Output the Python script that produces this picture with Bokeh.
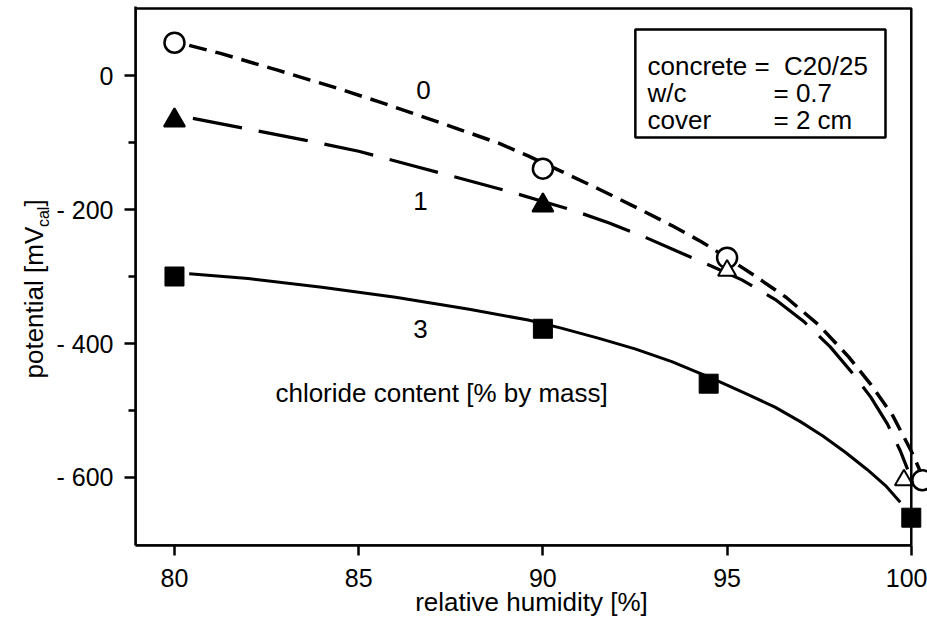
from bokeh.plotting import figure
from bokeh.models import FixedTicker, Label, BoxAnnotation, Range1d, ColumnDataSource, LinearAxis
from bokeh.core.properties import value
from bokeh.embed import file_html
from bokeh.resources import INLINE

# ---------------- data ----------------
# measured points, chloride content 0 / 1 / 3 % by mass
s0_rh = [80, 90, 95, 100.3]
s0_pot = [49, -139, -272, -604]

s1_rh = [80, 90, 95, 99.8]
s1_pot = [-67, -194, -291, -604]
s1_open = [False, False, True, True]

s3_rh = [80, 90, 94.5, 100]
s3_pot = [-300, -378, -460, -660]

# fitted curves
c0_rh = [80.4, 81.25, 82.8, 84.3, 85.6, 87.4, 88.8, 89.6, 90.5, 91.5, 92.5, 93.5,
         94.3, 95.0, 95.7, 96.6, 97.5, 98.3, 98.9, 99.5, 100.05, 100.25]
c0_pot = [45, 33, 8, -17, -40, -74, -101, -120, -143, -169, -196, -224,
          -248, -272, -297, -331, -373, -420, -461, -508, -566, -592]

c1_rh = [80.5, 82.0, 83.5, 85.0, 86.5, 88.0, 89.2, 90.0, 90.8, 91.8, 92.8, 93.8,
         94.6, 95.4, 96.3, 97.1, 97.8, 98.4, 98.9, 99.35, 99.7, 99.9]
c1_pot = [-64, -80, -96, -113, -135, -157, -175, -188, -201, -220, -242, -266,
          -285, -305, -334, -368, -405, -444, -480, -520, -560, -588]

c3_rh = [80.4, 82.0, 84.0, 86.0, 88.0, 89.6, 90.5, 91.5, 92.5, 93.5, 94.2, 94.5,
         95.0, 95.6, 96.3, 97.0, 97.6, 98.2, 98.8, 99.3, 99.7]
c3_pot = [-296, -303, -316, -331, -349, -365, -377, -392, -408, -427, -443, -450,
          -462, -477, -495, -517, -538, -562, -588, -612, -637]

x_ticks = [80, 85, 90, 95, 100]
y_ticks = [0, -200, -400, -600]
y_minor = [-100, -300, -500]
y_tick_labels = ["0", "- 200", "- 400", "- 600"]

curve_names = ["0", "1", "3"]
box_keys = ["concrete =\u00a0 C20/25", "w/c", "cover"]
box_vals = ["", "= 0.7", "= 2 cm"]

x_title = "relative humidity [%]"
y_title_main = "potential [mV"
y_title_sub = "cal"
y_title_end = "]"

FONT = "Liberation Sans"

# ---------------- figure ----------------
X0, X1 = 78.942, 100.44
Y0, Y1 = -701.5, 103.0
p = figure(width=927, height=630, output_backend="svg", toolbar_location=None,
           title=None, x_range=Range1d(X0, X1), y_range=Range1d(Y0, Y1),
           min_border_left=135, min_border_right=0, min_border_top=6,
           min_border_bottom=85)
p.outline_line_color = None
p.grid.visible = False
p.background_fill_color = "white"
p.border_fill_color = "white"

# axes
for ax in (p.xaxis[0], p.yaxis[0]):
    ax.axis_line_width = 2.5
    ax.axis_line_color = "black"
    ax.major_tick_line_width = 2.5
    ax.minor_tick_line_width = 2.5
    ax.major_tick_line_color = "black"
    ax.minor_tick_line_color = "black"
    ax.major_tick_in = 0
    ax.minor_tick_in = 0
    ax.major_label_text_font = FONT
    ax.major_label_text_font_size = "25px"
    ax.major_label_text_color = "black"

p.xaxis.ticker = FixedTicker(ticks=x_ticks, minor_ticks=[])
p.xaxis.major_tick_out = 10
p.xaxis.major_label_standoff = 13
p.xaxis.bounds = (X0, 100)
p.xaxis.axis_label = x_title
p.xaxis.axis_label_text_font = FONT
p.xaxis.axis_label_text_font_size = "26px"
p.xaxis.axis_label_text_font_style = "normal"
p.xaxis.axis_label_text_color = "black"
p.xaxis.axis_label_standoff = -3

p.yaxis.ticker = FixedTicker(ticks=y_ticks, minor_ticks=y_minor)
p.yaxis.major_tick_out = 11
p.yaxis.minor_tick_out = 7
p.yaxis.major_label_standoff = 11
p.yaxis.major_label_overrides = {t: l for t, l in zip(y_ticks, y_tick_labels)}

# y title with subscript, built from label-only axes (texts outside the frame)
PXY = 0.67
start_px = 378            # bottom end of the title, in pixels
w_main = 5.836 * 26
w_sub = 1.278 * 16
w_end = 0.278 * 26
def px2y(py):
    return int(round((75 - py) / PXY))
t_main = px2y(start_px - w_main / 2)
t_sub = px2y(start_px - w_main - w_sub / 2)
t_end = px2y(start_px - w_main - w_sub - w_end / 2)

def label_axis(ticks, texts, size, standoff):
    a = LinearAxis(ticker=FixedTicker(ticks=ticks, minor_ticks=[]),
                   major_label_overrides={t: s for t, s in zip(ticks, texts)},
                   major_label_orientation="vertical",
                   major_label_text_font=FONT, major_label_text_font_size=size,
                   major_label_text_color="black", major_label_standoff=standoff,
                   axis_line_color=None, major_tick_line_color=None,
                   minor_tick_line_color=None, major_tick_out=0, major_tick_in=0,
                   minor_tick_out=0, minor_tick_in=0)
    return a

p.add_layout(label_axis([t_sub], [y_title_sub], "16px", 1), "left")
p.add_layout(label_axis([t_main, t_end], [y_title_main, y_title_end], "26px", -17), "left")

# frame: top and right border
p.add_layout(BoxAnnotation(right=100, top=100.0, fill_alpha=0, line_color="black",
                           line_alpha=1, line_width=2.5))

# curves
p.line(c0_rh, c0_pot, line_color="black", line_width=3.5, line_dash="18 9")
p.line(c1_rh, c1_pot, line_color="black", line_width=3.2, line_dash="50 17")
p.line(c3_rh, c3_pot, line_color="black", line_width=3)

# markers
p.scatter(s0_rh, s0_pot, marker="circle", size=20, fill_color="white",
          line_color="black", line_width=2.5)
s1_fill = ["white" if o else "black" for o in s1_open]
s1_size = [18 if o else 21 for o in s1_open]
p.scatter(x="x", y="y", source=ColumnDataSource(dict(x=s1_rh, y=s1_pot, f=s1_fill, s=s1_size)),
          marker="triangle", size="s", fill_color="f", line_color="black", line_width=2)
p.scatter(s3_rh, s3_pot, marker="square", size=19, fill_color="black",
          line_color="black", line_width=1)

# curve labels
p.text(x=[86.76, 86.68, 86.68], y=[-21, -187, -378], text=curve_names,
       text_font=value(FONT), text_font_size="26px", text_align="center",
       text_baseline="middle", text_color="black")
p.add_layout(Label(x=82.74, y=-474.6, text="chloride content [% by mass]",
                   text_font=FONT, text_font_size="26px", text_baseline="alphabetic",
                   text_align="left", text_color="black"))

# info box
p.add_layout(BoxAnnotation(left=92.51, right=99.30, top=68.7, bottom=-92.5,
                           fill_color="white", fill_alpha=1, line_color="black",
                           line_alpha=1, line_width=2.5))
row_y = [14.5, -25.8, -66.1]
for k, v, yy in zip(box_keys, box_vals, row_y):
    p.add_layout(Label(x=92.84, y=yy, text=k, text_font=FONT, text_font_size="26px",
                       text_baseline="alphabetic", text_align="left", text_color="black"))
    if v:
        p.add_layout(Label(x=96.26, y=yy, text=v, text_font=FONT, text_font_size="26px",
                           text_baseline="alphabetic", text_align="left",
                           text_color="black"))

open("out.html", "w").write(file_html(p, INLINE))
